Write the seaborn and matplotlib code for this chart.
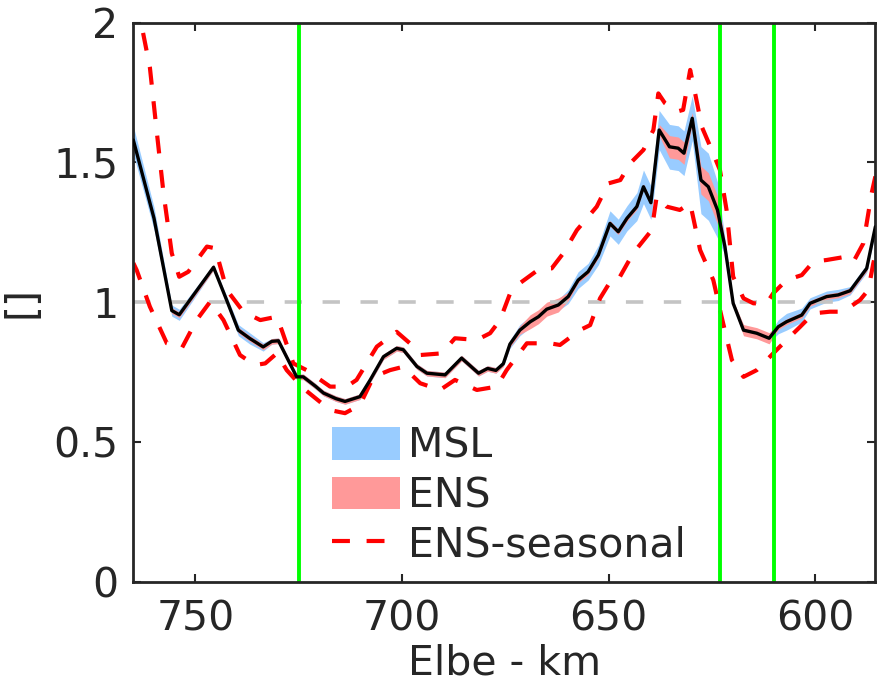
import numpy as np
import seaborn as sns
import matplotlib
matplotlib.use('Agg')
import matplotlib.pyplot as plt
from matplotlib.patches import Patch
from matplotlib.lines import Line2D

# Elbe-km der mittleren Kurve
km = [765, 760, 755.7, 753.9, 745.6, 742.5, 739.6, 736.8, 733.6, 731.5,
      729.9, 725.5, 723.9, 721, 719, 716, 713.8, 710.2, 707.7, 704.5,
      701.3, 699.7, 696.4, 694, 689.6, 685.6, 681.5, 679.3, 677.3, 675.5,
      673.9, 671.5, 669, 667, 665, 662.2, 659.8, 657.4, 655, 652.5,
      649.7, 647.7, 645.6, 643.2, 641.6, 639.8, 637.8, 635.3, 633.2, 631.8,
      629.8, 627.7, 625.9, 623.7, 621.9, 619.9, 617.4, 614.2, 611.2, 609,
      607, 603.3, 601.3, 597.3, 594.5, 591.6, 587.6, 585.5]
mean = [1.58, 1.30, 0.97, 0.955, 1.125, 1.01, 0.90, 0.87, 0.84, 0.86,
        0.862, 0.733, 0.733, 0.70, 0.675, 0.655, 0.645, 0.662, 0.722, 0.805,
        0.835, 0.83, 0.77, 0.746, 0.74, 0.80, 0.746, 0.763, 0.756, 0.78,
        0.85, 0.90, 0.93, 0.948, 0.975, 0.99, 1.02, 1.079, 1.109, 1.169,
        1.282, 1.252, 1.30, 1.342, 1.413, 1.356, 1.616, 1.556, 1.551, 1.533,
        1.658, 1.437, 1.413, 1.33, 1.199, 0.996, 0.90, 0.889, 0.871, 0.912,
        0.93, 0.954, 0.996, 1.02, 1.026, 1.041, 1.121, 1.27]
# halbe Bandbreiten
msl_half = [0.05, 0.04, 0.02, 0.02, 0.01, 0.015, 0.02, 0.02, 0.015, 0.01,
            0.01, 0.01, 0.01, 0.01, 0.01, 0.01, 0.01, 0.01, 0.01, 0.01,
            0.01, 0.01, 0.01, 0.01, 0.01, 0.01, 0.01, 0.01, 0.01, 0.01,
            0.015, 0.02, 0.02, 0.02, 0.02, 0.02, 0.025, 0.03, 0.03, 0.035,
            0.045, 0.045, 0.045, 0.05, 0.06, 0.06, 0.07, 0.08, 0.08, 0.08,
            0.08, 0.12, 0.12, 0.10, 0.03, 0.01, 0.015, 0.015, 0.015, 0.025,
            0.03, 0.025, 0.02, 0.02, 0.02, 0.015, 0.015, 0.02]
ens_half = [0.01, 0.01, 0.01, 0.01, 0.01, 0.01, 0.01, 0.01, 0.01, 0.01,
            0.01, 0.01, 0.01, 0.01, 0.01, 0.01, 0.01, 0.01, 0.01, 0.01,
            0.01, 0.01, 0.01, 0.01, 0.01, 0.01, 0.01, 0.01, 0.01, 0.01,
            0.01, 0.015, 0.025, 0.025, 0.025, 0.025, 0.015, 0.01, 0.01, 0.01,
            0.01, 0.01, 0.01, 0.01, 0.01, 0.01, 0.02, 0.04, 0.04, 0.04,
            0.02, 0.05, 0.05, 0.05, 0.02, 0.01, 0.02, 0.02, 0.02, 0.01,
            0.01, 0.01, 0.01, 0.01, 0.01, 0.01, 0.01, 0.01]

# ENS-seasonal obere / untere Grenze
km_up = [765, 763, 761, 759.3, 757.7, 755.7, 753.9, 751.7, 747.2, 745.2,
         742.4, 738.4, 734.3, 730.3, 729.1, 726.3, 723.1, 717.4, 713.4, 711,
         706.1, 701.3, 698.1, 695.6, 690.4, 687.2, 681.9, 678.7, 676.3, 673.9,
         671.5, 666.6, 663.8, 661, 657.7, 652.9, 650.1, 647.2, 644.8, 641.6,
         639.2, 638, 636.4, 633.5, 632, 630.3, 629.1, 627.5, 625.1, 623.1,
         621.5, 619.9, 617.4, 615, 611.8, 610.2, 607, 603.3, 600.5, 597.3,
         592.5, 590.8, 588.4, 586.4, 585.5]
upper = [2.14, 1.99, 1.84, 1.605, 1.39, 1.175, 1.091, 1.109, 1.199, 1.193,
         1.044, 0.966, 0.936, 0.948, 0.90, 0.781, 0.757, 0.698, 0.698, 0.722,
         0.841, 0.894, 0.853, 0.811, 0.817, 0.871, 0.865, 0.889, 0.936, 1.03,
         1.068, 1.121, 1.121, 1.175, 1.258, 1.342, 1.425, 1.437, 1.497, 1.545,
         1.616, 1.747, 1.712, 1.682, 1.688, 1.831, 1.747, 1.628, 1.545, 1.473,
         1.33, 1.091, 1.014, 0.996, 0.996, 1.032, 1.079, 1.097, 1.145, 1.151,
         1.163, 1.145, 1.211, 1.39, 1.45]
km_lo = [765, 764.2, 761, 756.9, 753.3, 749.7, 746.4, 743.2, 739.2, 735.6,
         733.1, 730.3, 727.9, 723.9, 717.4, 713.8, 710.2, 706.9, 702.9, 699.7,
         695.6, 690.8, 687.2, 681.9, 677.1, 674.7, 673.5, 669.8, 664.2, 661.8,
         657, 654.5, 652.1, 648.9, 647.3, 644.1, 639.6, 638.4, 636, 632.8,
         630.3, 627.9, 624.7, 622.7, 620.2, 617.4, 614.2, 611, 608.6, 603.7,
         600.5, 596.5, 593.3, 589.2, 587.2, 586, 585.5]
lower = [1.14, 1.115, 0.984, 0.853, 0.835, 0.936, 1.002, 0.936, 0.811, 0.775,
         0.781, 0.817, 0.757, 0.692, 0.614, 0.603, 0.632, 0.733, 0.757, 0.769,
         0.71, 0.686, 0.722, 0.686, 0.698, 0.757, 0.781, 0.853, 0.853, 0.847,
         0.90, 0.918, 1.014, 1.091, 1.091, 1.175, 1.258, 1.378, 1.342, 1.33,
         1.354, 1.187, 1.079, 0.948, 0.793, 0.733, 0.757, 0.805, 0.841, 0.912,
         0.96, 0.966, 0.966, 1.008, 1.044, 1.139, 1.17]

green_km = [725, 623, 610]

sns.set_style('ticks')
plt.rcParams['font.family'] = ['DejaVu Sans']
plt.rcParams['font.size'] = 29.5
plt.rcParams['axes.edgecolor'] = '#262626'
plt.rcParams['axes.linewidth'] = 2.0

fig = plt.figure(figsize=(8.86, 6.94), dpi=100)
ax = fig.add_axes([0.1505, 0.1618, 0.8375, 0.8055])

km_a = np.array(km)
mean_a = np.array(mean)
ax.fill_between(km_a, mean_a - np.array(msl_half), mean_a + np.array(msl_half),
                color='#99CCFF', lw=0, zorder=1)
ax.fill_between(km_a, mean_a - np.array(ens_half), mean_a + np.array(ens_half),
                color='#FF9999', lw=0, zorder=1.1)

ax.axhline(1, color='#C4C4C4', lw=2.6, ls=(0, (4.8, 5.7)), zorder=1.5)

sns.lineplot(x=km_up, y=upper, color='red', lw=3, ls=(0, (4.3, 4.0)),
             sort=False, ax=ax, zorder=2)
sns.lineplot(x=km_lo, y=lower, color='red', lw=3, ls=(0, (4.3, 4.0)),
             sort=False, ax=ax, zorder=2)
for g in green_km:
    ax.axvline(g, color='#00FF00', lw=2.8, zorder=2.5)
sns.lineplot(x=km, y=mean, color='black', lw=2.4, sort=False, ax=ax, zorder=3)

ax.set_xlim(765, 585.5)
ax.set_ylim(0, 2)
ax.set_xticks([750, 700, 650, 600])
ax.set_yticks([0, 0.5, 1, 1.5, 2])
ax.set_yticklabels(['0', '0.5', '1', '1.5', '2'])
ax.tick_params(direction='in', top=True, right=True, length=5.8, width=1.5,
               colors='#262626', labelcolor='#262626')
ax.tick_params(axis='x', pad=13)
ax.tick_params(axis='y', pad=11)
ax.set_xlabel('Elbe - km', labelpad=3, color='#262626')
ax.set_ylabel('[]', labelpad=8, color='#262626')

handles = [Patch(facecolor='#99CCFF', edgecolor='none'),
           Patch(facecolor='#FF9999', edgecolor='none'),
           Line2D([], [], color='red', lw=3, ls=(0, (4.3, 4.0)))]
ax.legend(handles, ['MSL', 'ENS', 'ENS-seasonal'], loc='upper left',
          bbox_to_anchor=(0.2674, 0.277), frameon=False, borderpad=0,
          borderaxespad=0, handlelength=1.66, handleheight=0.85,
          labelspacing=0.23, handletextpad=0.2, fontsize=29.5)

fig.savefig('out.png', dpi=100)
